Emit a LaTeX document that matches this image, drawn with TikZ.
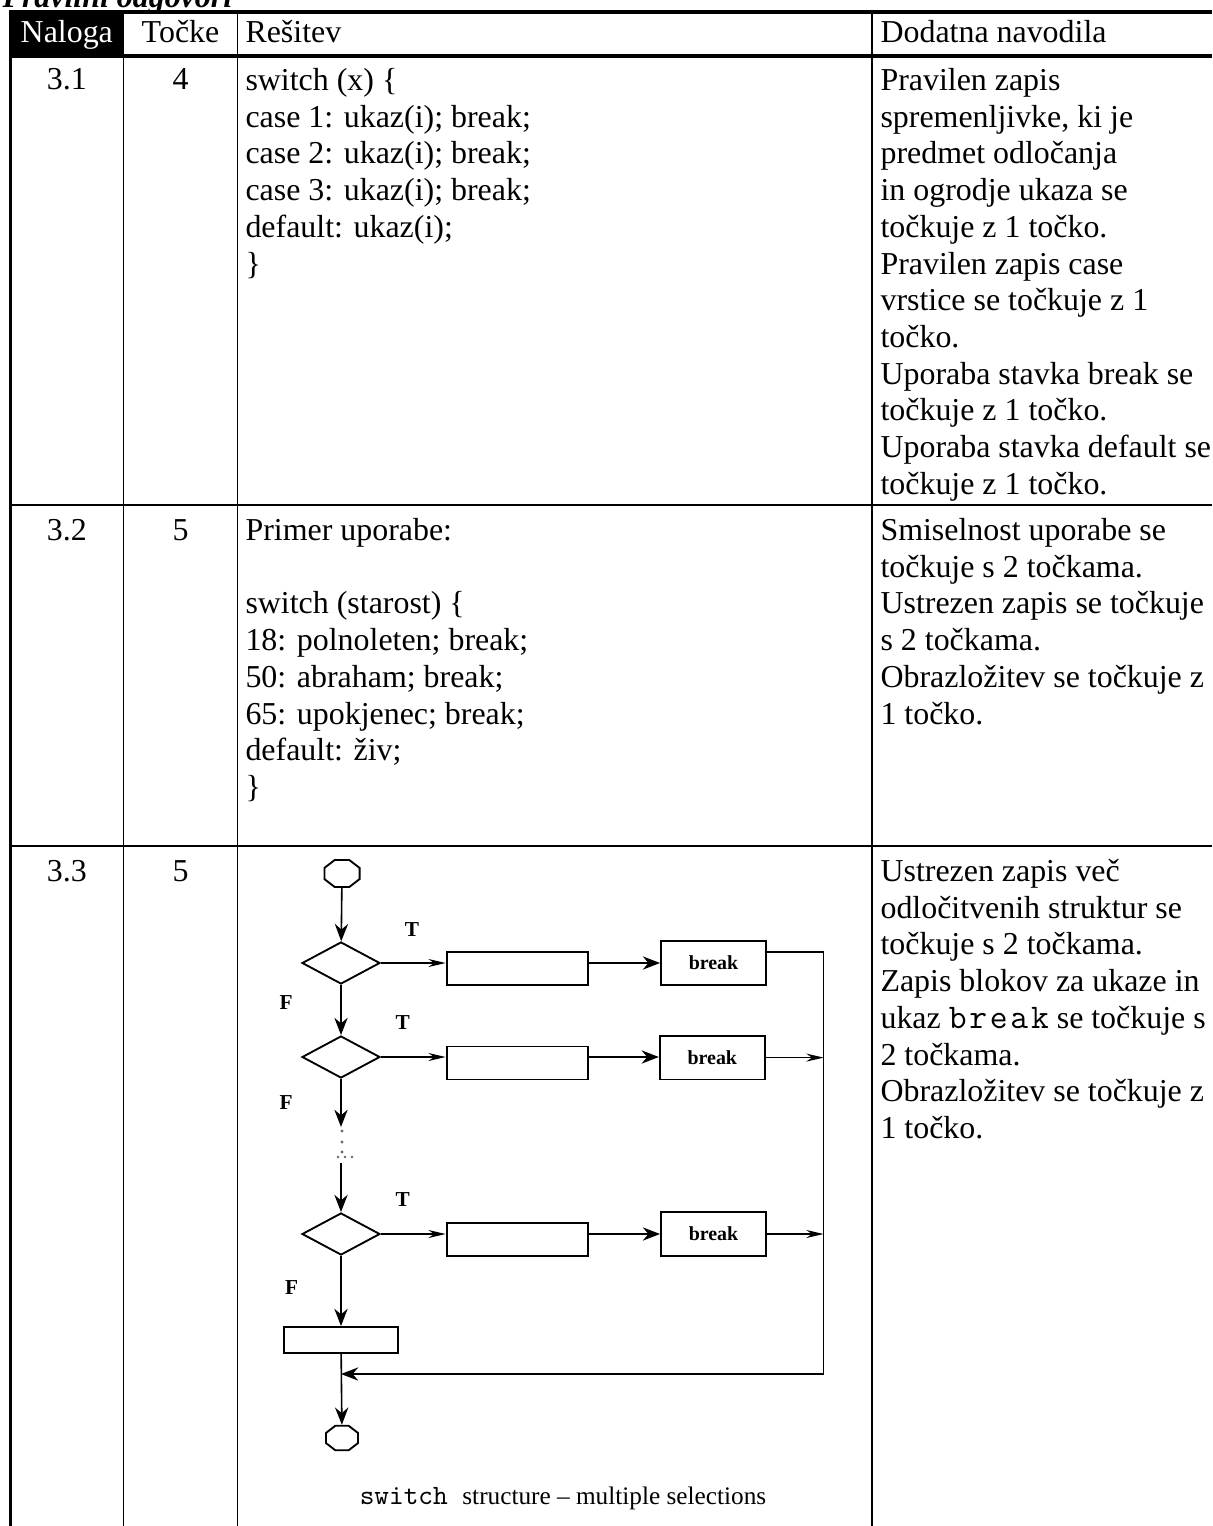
\documentclass[tikz,border=0pt]{standalone}
\usepackage{fontspec}
\setmainfont{Liberation Serif}
\newfontfamily\courfont{Latin Modern Mono}[LetterSpace=8]
\usetikzlibrary{arrows.meta, shapes.geometric, positioning}

\newcommand\codeword[1]{{\courfont\fontsize{13}{13.8}\selectfont #1}}

\tikzset{
  cell/.style={anchor=north west, inner sep=0pt, align=left, font=\fontsize{12}{13.8}\selectfont},
  num/.style={anchor=base, inner sep=0pt, font=\fontsize{12}{13.8}\selectfont},
  rule/.style={line width=0.6pt},
  thickrule/.style={line width=1.15pt},
  decision/.style={diamond, draw, line width=0.7pt, minimum width=29.3pt, minimum height=15.8pt, inner sep=0pt},
  block/.style={rectangle, draw, line width=0.7pt, minimum width=53.3pt, minimum height=12.4pt, inner sep=0pt},
  brk/.style={rectangle, draw, line width=0.7pt, minimum width=39.5pt, minimum height=16.5pt, inner sep=0pt, font=\fontsize{7.5}{9}\selectfont\bfseries},
  term/.style={regular polygon, regular polygon sides=8, draw, line width=0.7pt, minimum size=11pt, inner sep=0pt, xscale=1.3, transform shape},
  flow/.style={line width=0.6pt, -{Stealth[length=6.5pt,width=5pt]}},
  slim/.style={line width=0.6pt, -{Stealth[length=6.5pt,width=3pt]}},
  tf/.style={inner sep=0pt, font=\fontsize{8}{9}\selectfont\bfseries}
}

\begin{document}
\begin{tikzpicture}[x=0.376pt, y=-0.376pt]
\useasboundingbox (0,0) rectangle (1212,1526);

% title, cut by the page edge
\node[anchor=base west, inner sep=0pt, font=\fontsize{12}{13.8}\selectfont\bfseries\itshape] (title) at (2,8) {Pravilni odgovori};

% table frame
\fill (10,12) rectangle (123.6,56);
\draw[thickrule] (9,12) -- (1212,12);
\draw[thickrule] (9,56) -- (1212,56);
\draw[line width=1.3pt] (10.5,10.5) -- (10.5,1526);
\foreach \x in {123.6,237.3,871.7}
  \draw[rule] (\x,12) -- (\x,1526);
\foreach \y in {505,846}
  \draw[rule] (10,\y) -- (1212,\y);

% header
\node[num, text=white] (hnal) at (66.8,43) {Naloga};
\node[num] (htoc) at (180.5,43) {Točke};
\node[num, anchor=base west] (hres) at (245,43) {Rešitev};
\node[num, anchor=base west] (hnav) at (880,43) {Dodatna navodila};

% row 3.1
\node[num] (n1) at (66.8,90) {3.1};
\node[num] (p1) at (180.5,90) {4};
\node[cell] (code1) at (245,64.3) {\strut switch (x) \{\\
case 1: ukaz(i); break;\\
case 2: ukaz(i); break;\\
case 3: ukaz(i); break;\\
default: ukaz(i);\\
\}};
\node[cell] (nav1) at (880,64.3) {\strut Pravilen zapis\\
spremenljivke, ki je\\
predmet odločanja\\
in ogrodje ukaza se\\
točkuje z 1 točko.\\
Pravilen zapis case\\
vrstice se točkuje z 1\\
točko.\\
Uporaba stavka break se\\
točkuje z 1 točko.\\
Uporaba stavka default se\\
točkuje z 1 točko.};

% row 3.2
\node[num] (n2) at (66.8,540) {3.2};
\node[num] (p2) at (180.5,540) {5};
\node[cell] (code2) at (245,514.3) {\strut Primer uporabe:\\[13.8pt]
switch (starost) \{\\
18: polnoleten; break;\\
50: abraham; break;\\
65: upokjenec; break;\\
default: živ;\\
\}};
\node[cell] (nav2) at (880,514.3) {\strut Smiselnost uporabe se\\
točkuje s 2 točkama.\\
Ustrezen zapis se točkuje\\
s 2 točkama.\\
Obrazložitev se točkuje z\\
1 točko.};

% row 3.3
\node[num] (n3) at (66.8,881) {3.3};
\node[num] (p3) at (180.5,881) {5};
\node[cell] (nav3) at (880,855.3) {\strut Ustrezen zapis več\\
odločitvenih struktur se\\
točkuje s 2 točkama.\\
Zapis blokov za ukaze in\\
ukaz \codeword{break} se točkuje s\\
2 točkama.\\
Obrazložitev se točkuje z\\
1 točko.};

% flowchart
\node[term] (start) at (342,873.5) {};
\node[decision] (d1) at (341,963) {};
\node[block] (b1) at (517.5,968.4) {};
\node[brk] (k1) at (713.5,963) {break};
\node[decision] (d2) at (341,1057) {};
\node[block] (b2) at (517.5,1063) {};
\node[brk] (k2) at (712.3,1057.6) {break};
\node[decision] (d3) at (341,1234) {};
\node[block] (b3) at (517.5,1239.5) {};
\node[brk] (k3) at (713.5,1234) {break};
\node[block, minimum width=42.8pt, minimum height=9.8pt] (b4) at (341,1340) {};
\node[term, minimum size=10pt] (stop) at (342,1438) {};

\node[tf] (t1) at (412,930) {T};
\node[tf] (t2) at (402.6,1023) {T};
\node[tf] (t3) at (402.6,1200) {T};
\node[tf] (f1) at (286,1003) {F};
\node[tf] (f2) at (286,1103) {F};
\node[tf] (f3) at (291.7,1288) {F};

\coordinate (railtop) at (823.6,952);
\coordinate (railbot) at (823.6,1374);
\coordinate (gapA) at (341,1127);
\coordinate (gapB) at (341,1163);

\draw[flow] (start) -- (d1);
\draw[slim] (d1.east) -- (d1.east -| b1.west);
\draw[flow] (d1.east -| b1.east) -- (d1.east -| k1.west);
\draw[slim] (d2.east) -- (d2.east -| b2.west);
\draw[flow] (d2.east -| b2.east) -- (d2.east -| k2.west);
\draw[slim] (d3.east) -- (d3.east -| b3.west);
\draw[flow] (d3.east -| b3.east) -- (d3.east -| k3.west);

\draw[rule] (k1.east |- railtop) -- (railtop) -- (railbot);
\draw[slim] (k2.east) -- (k2.east -| railtop);
\draw[slim] (k3.east) -- (k3.east -| railtop);
\draw[flow] (railbot) -- (railbot -| b4.south);

\draw[flow] (d1) -- (d2);
\draw[flow] (d2) -- (gapA);
\foreach \y in {1131,1142,1152}
  \fill[black!60] (342,\y) circle (0.6pt);
\foreach \x in {338,345,352}
  \fill[black!60] (\x,1157) circle (0.5pt);
\draw[flow] (gapB) -- (d3);
\draw[flow] (d3) -- (b4);
\draw[flow] (b4) -- (stop);

\node[inner sep=0pt, font=\fontsize{9.5}{11}\selectfont] (caption) at (563,1498) {{\ttfamily\fontsize{10.5}{11}\selectfont switch\ }structure – multiple selections};

\end{tikzpicture}
\end{document}
